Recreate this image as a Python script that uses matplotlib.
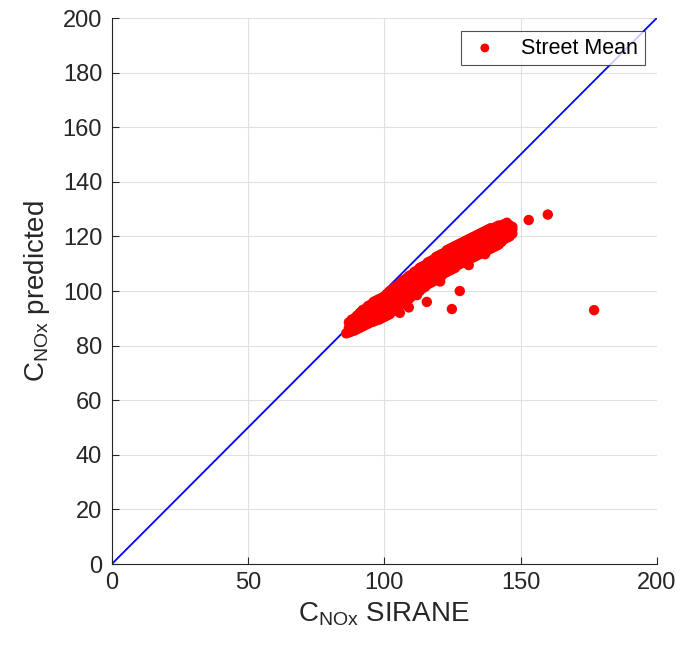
import matplotlib
matplotlib.use("Agg")
import matplotlib.pyplot as plt

plt.rcParams['font.family'] = ['Liberation Sans', 'DejaVu Sans']
plt.rcParams['mathtext.fontset'] = 'custom'
plt.rcParams['mathtext.rm'] = 'Liberation Sans'

# Street mean band: SIRANE value and predicted values (upper, middle, lower rows of the band)
band_x = [87, 88, 89, 90, 91, 92, 93, 94, 95, 96, 97, 98, 99, 100, 101, 102, 103, 104, 105, 106,
          107, 108, 109, 110, 111, 112, 113, 114, 115, 116, 117, 118, 119, 120, 121, 122, 123, 124,
          125, 126, 127, 128, 129, 130, 131, 132, 133, 134, 135, 136, 137, 138, 139, 140, 141, 142,
          143, 144, 145, 146, 147]
band_upper = [88.5, 89.5, 90, 91, 92, 93, 93.5, 94.5, 95, 96, 96.5, 97, 97.5, 98, 99, 100, 100.5,
              101.5, 102, 103, 104, 104.5, 105.5, 106, 107, 107.5, 108.5, 109, 109.5, 110.5, 111,
              111.5, 112.5, 113, 113.5, 114, 115, 115.5, 116, 116.5, 117, 117.5, 118, 118.5, 119,
              119.5, 120, 120.5, 121, 121.5, 122, 122.5, 123, 123, 123.5, 124, 124, 124.5, 125, 124, 123.5]
band_mid = [86.5, 87, 87.5, 88.5, 89, 90, 90.5, 91, 91.5, 92, 92.5, 93, 93.5, 94, 95, 95.5, 96.5,
            97, 98, 99, 99.5, 100.5, 101, 102, 103, 103.5, 104.5, 105, 105.5, 106.5, 107, 107.5,
            108.5, 109, 109.5, 110, 111, 111.5, 112, 112.5, 113, 113.5, 114, 114.5, 115, 115.5, 116,
            116.5, 117, 117.5, 118, 118.5, 119, 119.5, 120, 120.5, 121, 121.5, 122, 122, 122.5]
band_lower = [84.8, 85.2, 85.5, 86, 86.5, 87, 87.5, 88, 88.5, 88.8, 89.2, 89.5, 90, 90.5, 91, 91.5,
              92.5, 93, 94, 95, 95.5, 96.5, 97, 98, 98.5, 99.5, 100, 101, 101.5, 102.5, 103, 103.5,
              104.5, 105, 105.5, 106.5, 107, 107.5, 108, 108.5, 109.5, 110, 110.5, 111, 111.5, 112,
              112.5, 113, 113.5, 114, 114.5, 115, 115.5, 116, 116.5, 117, 118, 119, 119.5, 120, 121]
# isolated streets
extra_x = [153, 160, 177, 124.8, 127.7, 115.6, 105.7, 109, 137, 88.5, 90.5, 86, 112, 120.5, 131]
extra_y = [126, 128, 93, 93.4, 100, 96, 92, 94, 113.5, 88.5, 89.5, 84.5, 98.5, 103.5, 109.5]

diag = [0, 200]
xticks = [0, 50, 100, 150, 200]
yticks = [0, 20, 40, 60, 80, 100, 120, 140, 160, 180, 200]

sirane = band_x * 3 + extra_x
predicted = band_upper + band_mid + band_lower + extra_y

fig = plt.figure(figsize=(6.82, 6.48), dpi=100)
ax = fig.add_axes([0.164, 0.1296, 0.799, 0.8426])

ax.scatter(sirane, predicted, s=56, color='#ff0000', edgecolors='none', label='Street Mean', zorder=3)
ax.plot(diag, diag, color='#0000ff', lw=1.3, zorder=2)

ax.set_xlim(0, 200)
ax.set_ylim(0, 200)
ax.set_xticks(xticks)
ax.set_yticks(yticks)
ax.grid(True, color='#e0e0e0', lw=0.8)
ax.set_axisbelow(True)
for s in ['top', 'right']:
    ax.spines[s].set_visible(False)
for s in ['left', 'bottom']:
    ax.spines[s].set_color('#262626')
    ax.spines[s].set_linewidth(0.8)
ax.tick_params(direction='in', labelsize=17, colors='#262626', length=5, width=0.8)
ax.tick_params(axis='y', pad=7)
ax.tick_params(axis='x', pad=6)

ax.set_xlabel(r'C$_{\mathrm{NOx}}$ SIRANE', fontsize=20, color='#262626', labelpad=4)
ax.set_ylabel(r'C$_{\mathrm{NOx}}$ predicted', fontsize=20, color='#262626', labelpad=8)

leg = ax.legend(loc='upper right', fontsize=15.5, frameon=True, fancybox=False,
                edgecolor='#262626', handletextpad=0.9, handlelength=1.6, borderpad=0.3,
                borderaxespad=0, bbox_to_anchor=(0.978, 0.976), markerscale=0.85)
leg.get_frame().set_linewidth(0.8)

fig.savefig('out.png', dpi=100, facecolor='white')
